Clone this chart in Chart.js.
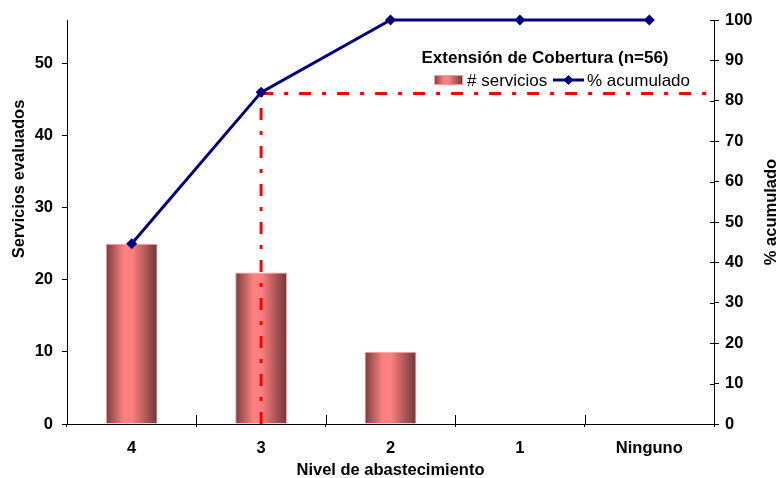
<!DOCTYPE html>
<html>
<head>
<meta charset="utf-8">
<script src="https://cdn.jsdelivr.net/npm/chart.js@4/dist/chart.umd.min.js"></script>
<style>
  html, body { margin: 0; padding: 0; background: #fff; }
  #wrap { width: 778px; height: 478px; }
</style>
</head>
<body>
<div id="wrap"><canvas id="pareto" width="778" height="478"></canvas></div>
<script>
const niveles = ['4', '3', '2', '1', 'Ninguno'];
const servicios = [25, 21, 10, 0, 0];
const acumulado = [44.6, 82.1, 100, 100, 100];
const corteIndex = 1;      // category where the cut-off line is drawn
const corteValor = 81.8;   // % level of the horizontal cut-off
const ticksServicios = [0, 10, 20, 30, 40, 50];
const ticksPorcentaje = [0, 10, 20, 30, 40, 50, 60, 70, 80, 90, 100];

const FONT = "'Liberation Sans', Arial, sans-serif";
const TICK_FONT = { family: FONT, size: 16.5, weight: 'bold' };

function barGradient(ctx, left, right) {
  const g = ctx.createLinearGradient(left, 0, right, 0);
  g.addColorStop(0, '#763c3c');
  g.addColorStop(0.35, '#ff8080');
  g.addColorStop(0.5, '#ff8080');
  g.addColorStop(1, '#6e3636');
  return g;
}

function barFill(c) {
  const chart = c.chart;
  const x = chart.scales.x;
  if (!x || x.width === undefined) return '#ff8080';
  const cx = x.getPixelForValue(c.dataIndex);
  const half = (x.width / niveles.length) * 0.4 / 2;
  return barGradient(chart.ctx, cx - half, cx + half);
}

// red dash-dot cut-off lines, drawn above bars and below the cumulative line
const cutoffLines = {
  id: 'cutoffLines',
  afterDatasetDraw(chart, args) {
    if (args.index !== 0) return;
    const { ctx, chartArea, scales } = chart;
    const x = scales.x.getPixelForValue(corteIndex);
    const y = scales.y1.getPixelForValue(corteValor);
    ctx.save();
    ctx.strokeStyle = '#ff0000';
    ctx.lineWidth = 3;
    ctx.setLineDash([12, 11, 4, 11]);
    ctx.beginPath();
    ctx.moveTo(x, scales.y.getPixelForValue(0));
    ctx.lineTo(x, y);
    ctx.stroke();
    ctx.beginPath();
    ctx.moveTo(x, y);
    ctx.lineTo(chartArea.right, y);
    ctx.stroke();
    ctx.restore();
  }
};

// inner tick marks, axis titles and the in-plot legend
const decorations = {
  id: 'decorations',
  afterDraw(chart) {
    const { ctx, chartArea, scales } = chart;
    ctx.save();
    ctx.strokeStyle = '#000';
    ctx.lineWidth = 1;
    ctx.beginPath();
    ticksPorcentaje.forEach(v => {
      const y = Math.round(scales.y1.getPixelForValue(v)) + 0.5;
      ctx.moveTo(chartArea.right - 4, y);
      ctx.lineTo(chartArea.right, y);
    });
    for (let i = 1; i < niveles.length; i++) {
      const x = Math.round(chartArea.left + i * chartArea.width / niveles.length) + 0.5;
      ctx.moveTo(x, chartArea.bottom - 9);
      ctx.lineTo(x, chartArea.bottom);
    }
    ctx.stroke();

    ctx.fillStyle = '#000';
    ctx.font = 'bold 16.5px ' + FONT;
    ctx.textAlign = 'center';
    ctx.textBaseline = 'middle';
    ctx.fillText('Nivel de abastecimiento', (chartArea.left + chartArea.right) / 2, 470);

    ctx.save();
    ctx.translate(19, 179);
    ctx.rotate(-Math.PI / 2);
    ctx.fillText('Servicios evaluados', 0, 0);
    ctx.restore();

    ctx.save();
    ctx.translate(771, 212);
    ctx.rotate(-Math.PI / 2);
    ctx.fillText('% acumulado', 0, 0);
    ctx.restore();

    // legend
    ctx.font = 'bold 17px ' + FONT;
    ctx.fillText('Extensión de Cobertura (n=56)', 545, 58);
    ctx.font = '17px ' + FONT;
    ctx.textAlign = 'left';
    ctx.fillStyle = barGradient(ctx, 434, 463);
    ctx.fillRect(434, 75, 29, 10);
    ctx.strokeStyle = '#ff9a9a';
    ctx.strokeRect(434.5, 75.5, 28, 9);
    ctx.fillStyle = '#000';
    ctx.fillText(chart.data.datasets[0].label, 467, 81);
    ctx.strokeStyle = '#000080';
    ctx.lineWidth = 3;
    ctx.beginPath();
    ctx.moveTo(553, 80);
    ctx.lineTo(584, 80);
    ctx.stroke();
    ctx.fillStyle = '#000080';
    ctx.beginPath();
    ctx.moveTo(568.5, 75);
    ctx.lineTo(573.5, 80);
    ctx.lineTo(568.5, 85);
    ctx.lineTo(563.5, 80);
    ctx.closePath();
    ctx.fill();
    ctx.fillStyle = '#000';
    ctx.fillText(chart.data.datasets[1].label, 587, 81);
    ctx.restore();
  }
};

new Chart(document.getElementById('pareto'), {
  type: 'bar',
  data: {
    labels: niveles,
    datasets: [
      {
        type: 'bar',
        label: '# servicios',
        data: servicios,
        yAxisID: 'y',
        backgroundColor: barFill,
        borderColor: '#ff9a9a',
        borderWidth: c => (servicios[c.dataIndex] > 0 ? 1 : 0),
        barPercentage: 0.4,
        categoryPercentage: 1,
        order: 1
      },
      {
        type: 'line',
        label: '% acumulado',
        data: acumulado,
        yAxisID: 'y1',
        borderColor: '#000080',
        backgroundColor: '#000080',
        borderWidth: 3,
        pointStyle: 'rectRot',
        pointRadius: 5.5,
        pointBorderWidth: 0,
        tension: 0,
        clip: false,
        order: 0
      }
    ]
  },
  options: {
    responsive: false,
    animation: false,
    layout: { padding: { top: 20, left: 0, right: 0, bottom: 0 } },
    plugins: {
      legend: { display: false },
      tooltip: { enabled: false }
    },
    scales: {
      x: {
        offset: true,
        grid: { offset: true, drawOnChartArea: false, color: '#000', tickLength: 3 },
        border: { color: '#000' },
        ticks: { color: '#000', font: TICK_FONT, padding: 12 },
        afterFit: s => { s.height = 54; }
      },
      y: {
        position: 'left',
        min: 0,
        max: 56,
        afterBuildTicks: s => { s.ticks = ticksServicios.map(v => ({ value: v })); },
        grid: { drawOnChartArea: false, color: '#000', tickLength: 5 },
        border: { color: '#000' },
        ticks: { color: '#000', font: TICK_FONT, padding: 9 },
        afterFit: s => { s.width = 67; }
      },
      y1: {
        position: 'right',
        min: 0,
        max: 100,
        afterBuildTicks: s => { s.ticks = ticksPorcentaje.map(v => ({ value: v })); },
        grid: { drawOnChartArea: false, color: '#000', tickLength: 5 },
        border: { color: '#000' },
        ticks: { color: '#000', font: TICK_FONT, padding: 6 },
        afterFit: s => { s.width = 64; }
      }
    }
  },
  plugins: [cutoffLines, decorations]
});
</script>
</body>
</html>
